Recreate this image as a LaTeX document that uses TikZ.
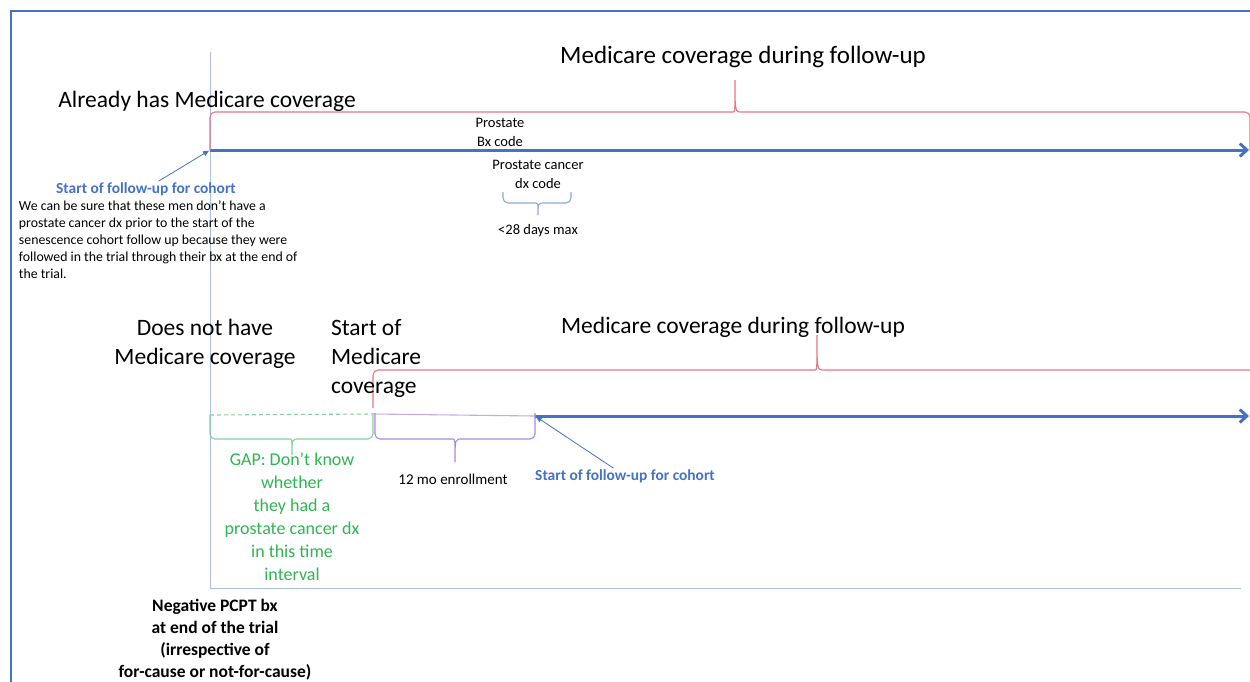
\documentclass[tikz,border=0pt]{standalone}
\usepackage{fontspec}
\setmainfont{Carlito}
\usetikzlibrary{arrows.meta,%
                positioning,%
                calc
              }
\definecolor{cohortblue}{HTML}{4472C4}
\definecolor{axisblue}{HTML}{AEBFE6}
\definecolor{medired}{HTML}{E47681}
\definecolor{gapgreen}{HTML}{2FB552}
\definecolor{gapline}{HTML}{86CF9A}
\definecolor{enrollpurple}{HTML}{A88BD4}
\definecolor{dxblue}{HTML}{8EA8DB}
\newcommand{\txtsize}[2]{\fontsize{#1}{#2}\selectfont}
% left/right/tip x / base/arm/tip y / colour
\def\setofbraces{210/1250/735/150/112/80/medired,
  373/1264/817/408/370/335/medired,
  210/373/292/415/439/455/gapline,
  375/535/455/413/439/462/enrollpurple,
  503/571/538/192/203/215/dxblue}

\begin{document}
\begin{tikzpicture}[x=1pt, y=-1pt,
    every node/.style={inner sep=0pt, outer sep=1pt},
    bigtxt/.style={font=\txtsize{23.5}{29}},
    smalltxt/.style={font=\txtsize{14.5}{19}, align=center},
    cohorttxt/.style={font=\bfseries\txtsize{15.4}{18}, text=cohortblue},
    axisline/.style={axisblue, line width=1pt},
    timeline/.style={cohortblue, line width=3pt,%
      -{Straight Barb[length=7pt, width=13pt]}},
    pointer/.style={cohortblue, line width=0.8pt,%
      -{Triangle[length=6pt, width=5pt]}, shorten >=1pt}
  ]
  \useasboundingbox (0,0) rectangle (1250,681);

  %% FRAME AND AXES
  \draw[cohortblue, line width=1.6pt] (11,690) -- (11,11) -- (1260,11);
  \coordinate (origin) at (210,588);
  \draw[axisline] (210,52) -- (origin) -- (1241,588);

  %% TIMELINES
  \coordinate (start1) at (210,150);
  \coordinate (end1) at (1249,150);
  \coordinate (gap) at (210,415);
  \coordinate (medstart) at (373,414);
  \coordinate (start2) at (535,416);
  \coordinate (end2) at (1249,416);
  \draw[gapline, line width=1.1pt, dash pattern=on 4pt off 3pt] (gap) -- (medstart);
  \draw[enrollpurple!70, line width=1.1pt] (medstart) -- (start2);
  \draw[timeline] (start1) -- (end1);
  \draw[timeline] (start2) -- (end2);

  %% BRACES
  \foreach \xa/\xb/\xm/\ya/\yb/\yc/\bcol in \setofbraces {%
    \draw[color=\bcol, line width=1.1pt] (\xa,\ya) [rounded corners=5pt]%
      -- (\xa,\yb) -- ({\xm-7},\yb) [sharp corners]%
      .. controls (\xm,\yb) .. (\xm,\yc)%
      .. controls (\xm,\yb) .. ({\xm+7},\yb) [rounded corners=5pt]%
      -- (\xb,\yb) -- (\xb,\ya);%
  }

  %% ROW 1: ALREADY HAS MEDICARE
  \node[bigtxt, font=\txtsize{25}{29}, anchor=base] (follow1) at (743,63)
    {Medicare coverage during follow-up};
  \node[bigtxt, anchor=base] (has) at (207,107) {Already has Medicare coverage};
  \node[smalltxt, anchor=base] (bx) at (500,146) {Prostate\\Bx code};
  \node[smalltxt, anchor=base] (dx) at (538,188) {Prostate cancer\\dx code};
  \node[smalltxt, anchor=base] (days) at (538,234) {<28 days max};
  \node[cohorttxt, anchor=base] (sfu1) at (146,193) {Start of follow-up for cohort};
  \node[font=\txtsize{13.8}{17}, align=left, anchor=base west] (note) at (18,278)
    {We can be sure that these men don’t have a\\
     prostate cancer dx prior to the start of the\\
     senescence cohort follow up because they were\\
     followed in the trial through their bx at the end of\\
     the trial.};
  \draw[pointer] (sfu1) -- (start1);

  %% ROW 2: NO MEDICARE AT END OF TRIAL
  \node[bigtxt, anchor=base] (follow2) at (733,333)
    {Medicare coverage during follow-up};
  \node[bigtxt, align=center, anchor=base] (nothave) at (205,364)
    {Does not have\\Medicare coverage};
  \node[bigtxt, align=left, anchor=base west] (medcov) at (330,393)
    {Start of\\Medicare\\coverage};
  \node[font=\txtsize{18}{23}, text=gapgreen, align=center, anchor=base] (gaptxt)
    at (292,580) {GAP: Don’t know\\whether\\they had a\\prostate cancer dx\\in this time\\interval};
  \node[smalltxt, font=\txtsize{15}{19}, anchor=base] (enroll) at (453,484) {12 mo enrollment};
  \node[cohorttxt, anchor=base] (sfu2) at (625,480) {Start of follow-up for cohort};
  \draw[pointer] (sfu2) -- (start2);

  %% TRIAL END
  \node[font=\bfseries\txtsize{17.5}{22}, align=center, anchor=base] (negbx) at (215,677)
    {Negative PCPT bx\\at end of the trial\\(irrespective of\\for-cause or not-for-cause)};
\end{tikzpicture}
\end{document}
